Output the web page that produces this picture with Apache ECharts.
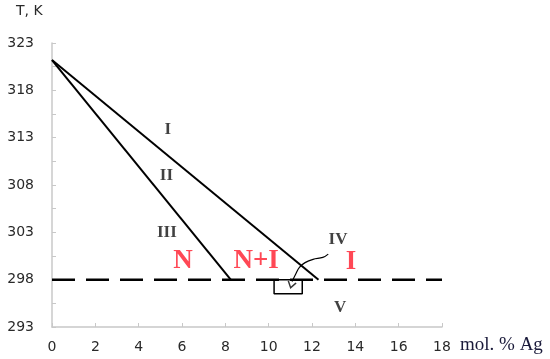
<!DOCTYPE html>
<html>
<head>
<meta charset="utf-8">
<script src="https://cdn.jsdelivr.net/npm/echarts@6/dist/echarts.min.js"></script>
<style>
  html, body { margin: 0; padding: 0; background: #fff; }
  #main { width: 550px; height: 359px; }
</style>
</head>
<body>
<div id="main"></div>
<script>
  // liquidus lines (mol. % Ag, T K)
  var lineI = [[0, 321.2], [12.3, 298]];
  var lineII = [[0, 321.2], [8.25, 298]];
  // 298 K isotherm
  var isotherm = [[0, 298], [18, 298]];
  // marked box and arrow to it
  var boxPts = [[10.25, 298], [11.55, 298], [11.55, 296.5], [10.25, 296.5], [10.25, 298]];
  var arrowPts = [[12.75, 300.7], [12.5, 300.35], [12.05, 300.15], [11.68, 299.8], [11.42, 299.3], [11.25, 298.6], [11.08, 297.8]];
  var arrowTip = [[11.05, 297.45]];
  // region labels
  var romanLabels = [
    ['I', 5.35, 313.8], ['II', 5.28, 308.95], ['III', 5.3, 303.0],
    ['IV', 13.2, 302.2], ['V', 13.3, 295.0]
  ];
  var phaseLabels = [['N', 6.05, 299.97], ['N+I', 9.42, 299.97], ['I', 13.8, 299.9]];
  var xTicks = [0, 2, 4, 6, 8, 10, 12, 14, 16, 18];
  var yTicks = [293, 298, 303, 308, 313, 318, 323];

  var chart = echarts.init(document.getElementById('main'));
  var axisFont = { fontFamily: 'DejaVu Sans', fontSize: 14, color: '#2a2a2a' };

  var option = {
    animation: false,
    grid: { left: 52, right: 108, top: 43, bottom: 32 },
    xAxis: {
      type: 'value', min: xTicks[0], max: xTicks[xTicks.length - 1], interval: 2,
      axisLine: { lineStyle: { color: '#c8c8c8', width: 1.5 } },
      axisTick: { show: true, inside: true, length: 4, lineStyle: { color: '#c8c8c8' } },
      axisLabel: Object.assign({ margin: 13 }, axisFont),
      splitLine: { show: false }
    },
    yAxis: {
      type: 'value', min: yTicks[0], max: yTicks[yTicks.length - 1], interval: 5,
      axisLine: { show: true, lineStyle: { color: '#c8c8c8', width: 1.5 } },
      axisTick: { show: true, inside: true, length: 4, lineStyle: { color: '#c8c8c8' } },
      minorTick: { show: true, splitNumber: 2, length: 4, lineStyle: { color: '#c8c8c8' } },
      axisLabel: Object.assign({ margin: 18 }, axisFont),
      splitLine: { show: false }
    },
    graphic: [
      { type: 'text', left: 16, top: 4, style: { text: 'T, K', font: '14px "DejaVu Sans"', fill: '#2a2a2a' } },
      { type: 'text', left: 460, top: 336, style: { text: 'mol. % Ag', font: '19px "Liberation Serif"', fill: '#1a1a3a' } }
    ],
    series: [
      { type: 'line', data: isotherm, symbol: 'none', z: 2,
        lineStyle: { color: '#000', width: 2.5, type: [23, 11] } },
      { type: 'line', data: lineI, symbol: 'none', lineStyle: { color: '#000', width: 2 } },
      { type: 'line', data: lineII, symbol: 'none', lineStyle: { color: '#000', width: 2 } },
      { type: 'line', data: boxPts, symbol: 'none', z: 3,
        lineStyle: { color: '#000', width: 1.5 } },
      { type: 'line', data: arrowPts, symbol: 'none', smooth: 0.4,
        lineStyle: { color: '#000', width: 1.2 } },
      { type: 'scatter', data: arrowTip, symbol: 'path://M0,10 L5,0 L10,10',
        symbolSize: [8, 6], symbolRotate: 165,
        itemStyle: { color: 'none', borderColor: '#000', borderWidth: 1.3 } },
      { type: 'scatter', symbolSize: 0, z: 5,
        data: romanLabels.map(function (d) { return { value: [d[1], d[2]], name: d[0] }; }),
        label: { show: true, position: 'inside', formatter: '{b}',
          fontFamily: 'Liberation Serif', fontWeight: 'bold', fontSize: 17, color: '#111' } },
      { type: 'scatter', symbolSize: 0, z: 5,
        data: phaseLabels.map(function (d) { return { value: [d[1], d[2]], name: d[0] }; }),
        label: { show: true, position: 'inside', formatter: '{b}',
          fontFamily: 'Liberation Serif', fontWeight: 'bold', fontSize: 27, color: '#ff1a2a' } }
    ]
  };
  chart.setOption(option);
</script>
</body>
</html>
